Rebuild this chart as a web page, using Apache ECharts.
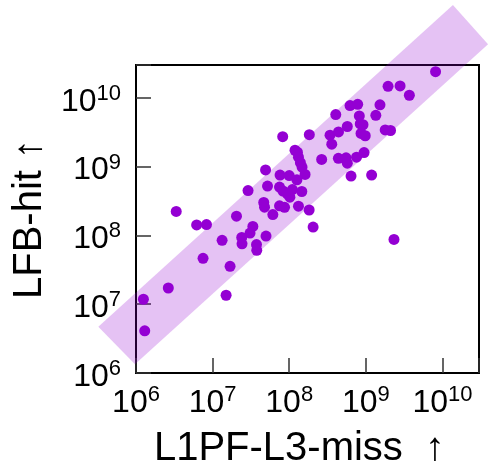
<!DOCTYPE html>
<html>
<head>
<meta charset="utf-8">
<script src="https://cdn.jsdelivr.net/npm/echarts@6/dist/echarts.min.js"></script>
<style>
  html, body { margin: 0; padding: 0; background: #fff; }
  #chart { width: 491px; height: 471px; }
</style>
</head>
<body>
<div id="chart"></div>
<script>
// Per-workload event counts (x: L1PF-L3-miss, y: LFB-hit)
const l1pfL3Miss = [
  8.13e9, 1.95e9, 2.80e9, 3.70e9, 6.22e8, 7.83e8, 1.53e9, 4.05e8, 8.22e8, 1.35e9,
  8.45e8, 9.18e8, 5.73e8, 8.65e8, 9.82e8, 1.79e9, 2.10e9, 3.41e8, 4.40e8, 1.83e8,
  8.22e7, 3.59e8, 1.19e8, 1.28e8, 1.32e8, 1.40e8, 1.47e8, 1.61e8, 2.65e8, 4.38e8,
  5.52e8, 5.73e8, 7.56e8, 9.48e8, 6.41e8, 1.19e9, 4.91e7, 7.59e7, 1.00e8, 1.26e8,
  2.90e7, 5.21e7, 7.47e7, 8.30e7, 1.10e8, 1.46e8, 1.02e8, 9.44e7, 4.65e7, 4.76e7,
  7.47e7, 8.69e7, 1.32e8, 1.82e8, 6.11e7, 2.05e8, 2.33e9, 3.35e6, 6.19e6, 8.32e6,
  2.05e7, 3.35e7, 3.08e7, 2.40e7, 2.42e7, 1.33e7, 3.74e7, 3.77e7, 4.98e7, 7.50e6,
  1.69e7, 2.64e6, 1.50e7, 1.25e6, 1.30e6
];
const lfbHit = [
  2.40e10, 1.47e10, 1.49e10, 1.09e10, 7.73e9, 8.05e9, 7.92e9, 5.71e9, 5.45e9, 5.57e9,
  4.17e9, 4.06e9, 3.83e9, 3.04e9, 2.81e9, 3.41e9, 3.35e9, 2.86e9, 3.19e9, 2.91e9,
  2.72e9, 2.12e9, 1.73e9, 1.62e9, 1.37e9, 1.14e9, 9.84e8, 7.71e8, 1.27e9, 1.32e9,
  1.34e9, 1.12e9, 1.37e9, 1.60e9, 7.28e8, 7.54e8, 8.95e8, 7.54e8, 7.41e8, 6.44e8,
  4.49e8, 5.21e8, 5.05e8, 4.42e8, 4.64e8, 4.35e8, 3.59e8, 4.02e8, 3.01e8, 2.57e8,
  2.69e8, 2.56e8, 2.66e8, 2.34e8, 2.01e8, 1.32e8, 8.75e7, 2.23e8, 1.42e8, 1.44e8,
  1.90e8, 1.35e8, 1.08e8, 9.35e7, 7.54e7, 8.47e7, 7.36e7, 6.07e7, 9.77e7, 4.64e7,
  3.56e7, 1.72e7, 1.35e7, 1.18e7, 4.10e6
];

// Corners of the shaded reference band (data units)
const bandX = [3.22e5, 9.70e5, 3.94e10, 1.37e10];
const bandY = [4.69e6, 1.34e6, 6.03e10, 2.23e11];

// Decade exponents that carry a tick label
const tickExponents = [6, 7, 8, 9, 10];
const axisMin = 1e6;
const axisMax = 3e10;

const FONT = 'Liberation Sans';
const PURPLE = '#9400d3';

function powerLabel(v) {
  const lg = Math.log10(v);
  const e = Math.round(lg);
  if (Math.abs(lg - e) > 1e-6 || tickExponents.indexOf(e) < 0) return '';
  return '{b|10}{s|' + e + '}';
}

const labelRich = {
  b: { fontSize: 32, fontFamily: FONT, color: '#000', verticalAlign: 'bottom', lineHeight: 40 },
  s: { fontSize: 22, fontFamily: FONT, color: '#000', verticalAlign: 'bottom', lineHeight: 40, padding: [0, 0, 13, 0] }
};

function logAxis(extra) {
  return Object.assign({
    type: 'log',
    logBase: 10,
    min: axisMin,
    max: axisMax,
    axisLine: { show: true, onZero: false, lineStyle: { color: '#000', width: 2 } },
    axisTick: { show: true, inside: true, length: 15, lineStyle: { color: '#333', width: 1.5 } },
    minorTick: { show: false },
    splitLine: { show: false },
    nameLocation: 'middle'
  }, extra);
}

const chart = echarts.init(document.getElementById('chart'), null, { renderer: 'canvas' });

chart.setOption({
  animation: false,
  backgroundColor: '#fff',
  grid: {
    left: 136, right: 12, top: 65, bottom: 98,
    show: true, borderColor: '#000', borderWidth: 2,
    outerBoundsMode: 'none'
  },
  xAxis: logAxis({
    name: 'L1PF-L3-miss  \u2191',
    nameGap: 56,
    nameTextStyle: { fontSize: 40, fontFamily: FONT, color: '#000', padding: [0, 16, 0, 0] },
    axisLabel: { margin: 6, formatter: powerLabel, rich: labelRich }
  }),
  yAxis: logAxis({
    name: 'LFB-hit \u2191',
    nameGap: 79,
    nameTextStyle: { fontSize: 40, fontFamily: FONT, color: '#000' },
    axisLabel: { margin: 15, formatter: powerLabel, rich: labelRich }
  }),
  series: [
    {
      type: 'custom',
      clip: false,
      z: 3,
      silent: true,
      data: bandX.map((x, i) => [x, bandY[i]]),
      renderItem: function (params, api) {
        if (params.dataIndex !== 0) return null;
        const pts = bandX.map((x, i) => api.coord([x, bandY[i]]));
        return {
          type: 'polygon',
          shape: { points: pts },
          style: { fill: 'rgba(148, 0, 211, 0.24)' }
        };
      }
    },
    {
      type: 'scatter',
      z: 4,
      symbol: 'circle',
      symbolSize: 11,
      itemStyle: { color: PURPLE, opacity: 1 },
      data: l1pfL3Miss.map((x, i) => [x, lfbHit[i]])
    }
  ]
});
</script>
</body>
</html>
